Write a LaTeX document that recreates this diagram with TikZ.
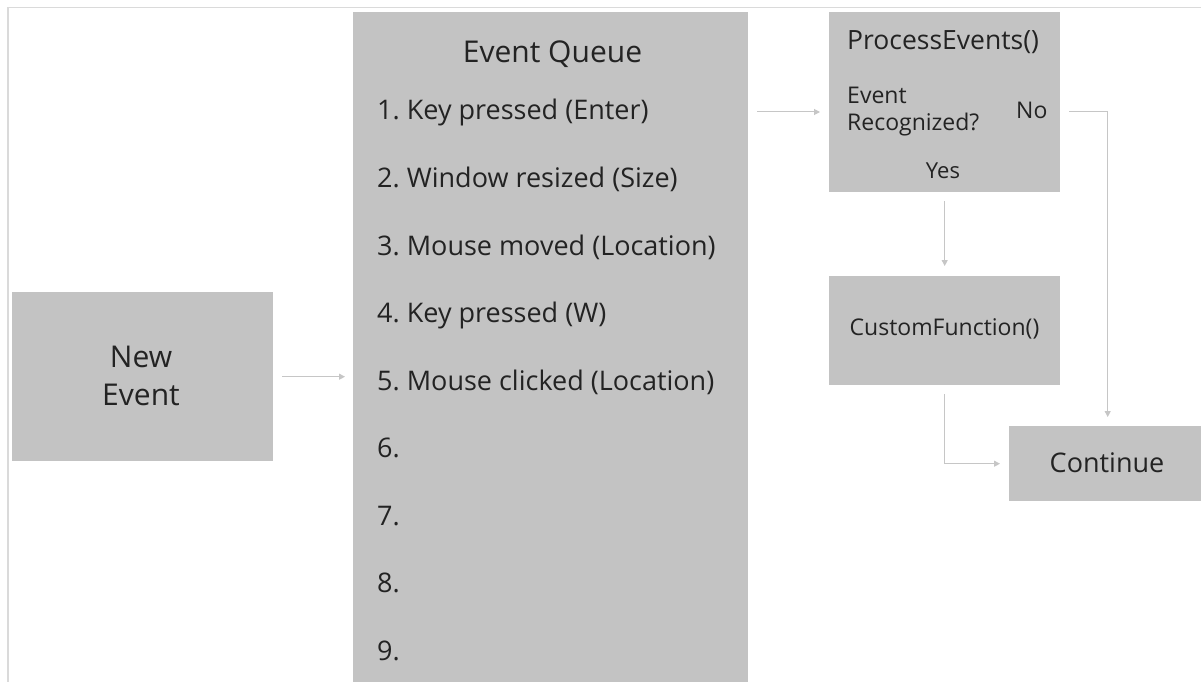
\documentclass[tikz,border=0pt]{standalone}
\usepackage{fontspec}
\setmainfont{Open Sans}
\usetikzlibrary{arrows.meta}
\definecolor{boxgray}{RGB}{195,195,195}
\definecolor{linegray}{RGB}{198,198,198}
\definecolor{framegray}{RGB}{218,218,218}
\definecolor{ink}{RGB}{35,35,35}

\begin{document}
\begin{tikzpicture}[x=1pt,y=-1pt,
  box/.style={fill=boxgray, draw=none, inner sep=0pt, anchor=north west},
  txt/.style={text=ink, inner sep=0pt},
  arr/.style={draw=linegray, line width=1pt,
    -{Triangle[length=6pt,width=6pt,fill=linegray]},
    shorten <=9pt, shorten >=9pt}]

  % page area
  \useasboundingbox (0,0) rectangle (1201,682);
  \clip (0,0) rectangle (1201,682);
  \fill[white] (0,0) rectangle (1201,682);

  % outer frame (top and left edges)
  \draw[framegray, line width=1.7pt] (8.2,690) -- (8.2,7.5) -- (1210,7.5);

  % boxes
  \node[box, minimum width=261.5pt, minimum height=169pt] (newev)   at (11.5,292)  {};
  \node[box, minimum width=395pt,   minimum height=680pt] (queue)   at (353,11.7)  {};
  \node[box, minimum width=231pt,   minimum height=180.3pt] (process) at (829,11.7) {};
  \node[box, minimum width=231pt,   minimum height=109pt] (custom)  at (829,276)   {};
  \node[box, minimum width=197pt,   minimum height=75pt]  (cont)    at (1009,426)  {};

  % box texts
  \node[txt, anchor=base] (newtxt1) at (141,367) {\fontsize{30}{36}\selectfont New};
  \node[txt, anchor=base] (newtxt2) at (141,405) {\fontsize{30}{36}\selectfont Event};

  \node[txt, anchor=base] (qtitle) at (552.5,63) {\fontsize{30}{36}\selectfont Event Queue};
  \foreach \t [count=\i] in {Key pressed (Enter), Window resized (Size),
      Mouse moved (Location), Key pressed (W), Mouse clicked (Location),
      {}, {}, {}, {}}
    \node[txt, anchor=base west] (q\i) at (377,{52.5+67.5*\i})
      {\fontsize{27}{32}\selectfont \i.\ \t};

  \node[txt, anchor=base west] (petitle) at (847,50) {\fontsize{26.5}{32}\selectfont ProcessEvents()};
  \node[txt, anchor=base west] (ask1) at (847,103) {\fontsize{23}{28}\selectfont Event};
  \node[txt, anchor=base west] (ask2) at (847,131) {\fontsize{23}{28}\selectfont Recognized?};
  \node[txt, anchor=base west] (no)   at (1016,118) {\fontsize{23}{28}\selectfont No};
  \node[txt, anchor=base]      (yes)  at (943,178) {\fontsize{22}{28}\selectfont Yes};

  \node[txt, anchor=base] (cftxt) at (944.5,335) {\fontsize{23}{28}\selectfont CustomFunction()};
  \node[txt, anchor=base] (conttxt) at (1107,472) {\fontsize{27}{32}\selectfont Continue};

  % connectors
  \coordinate (r1) at (0,112);
  \draw[arr, shorten >=8pt] (newev.east) -- (queue.west |- newev.east);
  \draw[arr] (queue.east |- r1) -- (process.west |- r1);
  \draw[arr] (process.east |- r1) -| (cont.north);
  \draw[arr, shorten >=10pt] (process.south) -- (custom.north);
  \draw[arr] (custom.south) |- (cont.west);
\end{tikzpicture}
\end{document}
